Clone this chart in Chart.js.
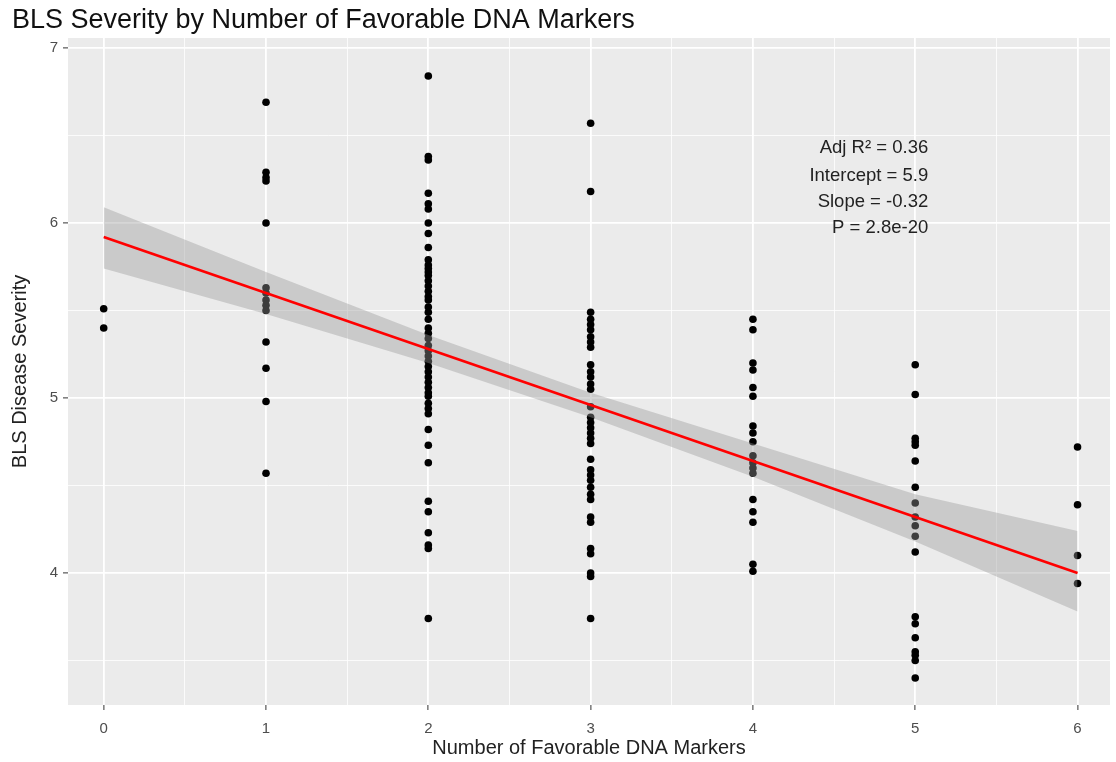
<!DOCTYPE html>
<html>
<head>
<meta charset="utf-8">
<title>BLS Severity by Number of Favorable DNA Markers</title>
<script src="https://cdn.jsdelivr.net/npm/chart.js@4.4.1/dist/chart.umd.min.js"></script>
<style>
  html, body { margin: 0; padding: 0; background: #fff; }
  #wrap { width: 1116px; height: 762px; position: relative; }
</style>
</head>
<body>
<div id="wrap"><canvas id="chart"></canvas></div>
<script>
// severity readings, one array per number of favorable markers
const severity0 = [5.51, 5.40];
const severity1 = [6.69, 6.29, 6.26, 6.24, 6.00, 5.63, 5.60, 5.56, 5.53, 5.50, 5.32, 5.17, 4.98, 4.57];
const severity2 = [6.84, 6.38, 6.36, 6.17, 6.11, 6.08, 6.00, 5.94, 5.86, 5.79, 5.76, 5.74, 5.72, 5.70,
  5.67, 5.64, 5.61, 5.58, 5.56, 5.52, 5.49, 5.45, 5.40, 5.37, 5.34, 5.30, 5.27, 5.24, 5.21, 5.18,
  5.15, 5.12, 5.09, 5.06, 5.03, 5.01, 4.97, 4.94, 4.91, 4.82, 4.73, 4.63, 4.41, 4.35, 4.23, 4.16,
  4.14, 3.74];
const severity3 = [6.57, 6.18, 5.49, 5.45, 5.42, 5.39, 5.35, 5.32, 5.29, 5.19, 5.15, 5.12, 5.08, 5.05,
  4.95, 4.89, 4.86, 4.83, 4.80, 4.77, 4.74, 4.65, 4.59, 4.56, 4.53, 4.49, 4.45, 4.42, 4.32, 4.29,
  4.14, 4.11, 4.00, 3.98, 3.74];
const severity4 = [5.45, 5.39, 5.20, 5.16, 5.06, 5.01, 4.84, 4.80, 4.75, 4.67, 4.63, 4.60, 4.57, 4.42,
  4.35, 4.29, 4.05, 4.01];
const severity5 = [5.19, 5.02, 4.77, 4.75, 4.73, 4.64, 4.49, 4.40, 4.32, 4.27, 4.21, 4.12, 3.75, 3.71,
  3.63, 3.55, 3.53, 3.50, 3.40];
const severity6 = [4.72, 4.39, 4.10, 3.94];
const markers = [0, 1, 2, 3, 4, 5, 6];
const severities = [severity0, severity1, severity2, severity3, severity4, severity5, severity6];

// fitted line and confidence band read at each marker count
const fitX = [0, 6];
const fitY = [5.92, 4.00];
const bandUpper = [6.09, 5.72, 5.36, 5.03, 4.74, 4.45, 4.24];
const bandLower = [5.74, 5.48, 5.20, 4.89, 4.55, 4.18, 3.78];

const xGrid = [0, 0.5, 1, 1.5, 2, 2.5, 3, 3.5, 4, 4.5, 5, 5.5, 6];
const yGrid = [3.5, 4, 4.5, 5, 5.5, 6, 6.5, 7];

const statLines = ["Adj R\u00b2 = 0.36", "Intercept = 5.9", "Slope = -0.32", "P = 2.8e-20"];
const statX = 5.08;
const statY = [6.43, 6.27, 6.12, 5.97];

const points = [];
markers.forEach((m, i) => severities[i].forEach(v => points.push({ x: m, y: v })));

const isMajor = v => Math.abs(v - Math.round(v)) < 1e-6;
const FONT = "'Liberation Sans', Arial, sans-serif";

const panelPlugin = {
  id: "panel",
  beforeDraw(chart) {
    const { ctx, chartArea: a } = chart;
    ctx.save();
    ctx.fillStyle = "#fff";
    ctx.fillRect(0, 0, chart.width, chart.height);
    ctx.fillStyle = "#EBEBEB";
    ctx.fillRect(a.left, a.top, a.right - a.left, a.bottom - a.top);
    ctx.restore();
  },
  afterDraw(chart) {
    const { ctx } = chart;
    const xs = chart.scales.x, ys = chart.scales.y;
    ctx.save();
    ctx.fillStyle = "#111";
    ctx.font = "27px " + FONT;
    ctx.textBaseline = "middle";
    ctx.textAlign = "left";
    ctx.fillText("BLS Severity by Number of Favorable DNA Markers", 12, 21);
    ctx.fillStyle = "#222";
    ctx.font = "18.5px " + FONT;
    ctx.textAlign = "right";
    statLines.forEach((t, i) => {
      ctx.fillText(t, xs.getPixelForValue(statX), ys.getPixelForValue(statY[i]));
    });
    ctx.restore();
  }
};

const gridStyle = {
  color: "#fff",
  lineWidth: c => (c.tick && isMajor(c.tick.value) ? 1.8 : 0.8),
  tickColor: c => (c.tick && isMajor(c.tick.value) ? "#333" : "rgba(0,0,0,0)"),
  tickLength: 5,
  tickWidth: 1
};

new Chart(document.getElementById("chart"), {
  data: {
    datasets: [
      {
        type: "line",
        label: "fit",
        data: fitX.map((x, i) => ({ x, y: fitY[i] })),
        borderColor: "#FF0000",
        borderWidth: 2.6,
        pointRadius: 0,
        order: 0
      },
      {
        type: "line",
        label: "upper",
        data: markers.map((x, i) => ({ x, y: bandUpper[i] })),
        borderWidth: 0,
        borderColor: "rgba(0,0,0,0)",
        backgroundColor: "rgba(153,153,153,0.4)",
        pointRadius: 0,
        fill: "+1",
        order: 1
      },
      {
        type: "line",
        label: "lower",
        data: markers.map((x, i) => ({ x, y: bandLower[i] })),
        borderWidth: 0,
        borderColor: "rgba(0,0,0,0)",
        pointRadius: 0,
        fill: false,
        order: 1
      },
      {
        type: "scatter",
        label: "severity",
        data: points,
        backgroundColor: "#000",
        borderWidth: 0,
        pointRadius: 3.8,
        order: 2
      }
    ]
  },
  options: {
    responsive: true,
    maintainAspectRatio: false,
    animation: false,
    layout: { padding: { top: 38, right: 6, left: 0, bottom: 0 } },
    plugins: {
      legend: { display: false },
      tooltip: { enabled: false }
    },
    scales: {
      x: {
        type: "linear",
        min: -0.22,
        max: 6.2,
        afterBuildTicks: s => { s.ticks = xGrid.map(v => ({ value: v })); },
        afterFit: s => { s.height = 57; },
        grid: gridStyle,
        border: { display: false },
        ticks: {
          autoSkip: false,
          maxRotation: 0,
          padding: 10,
          color: "#4D4D4D",
          font: { size: 15, family: FONT },
          callback: v => (isMajor(v) ? String(Math.round(v)) : "")
        },
        title: {
          display: true,
          text: "Number of Favorable DNA Markers",
          color: "#222",
          padding: { top: 0, bottom: 2 },
          font: { size: 20, family: FONT }
        }
      },
      y: {
        type: "linear",
        min: 3.246,
        max: 7.057,
        afterBuildTicks: s => { s.ticks = yGrid.map(v => ({ value: v })); },
        afterFit: s => { s.width = 68; },
        grid: gridStyle,
        border: { display: false },
        ticks: {
          autoSkip: false,
          padding: 5,
          color: "#4D4D4D",
          font: { size: 15, family: FONT },
          callback: v => (isMajor(v) ? String(Math.round(v)) : "")
        },
        title: {
          display: true,
          text: "BLS Disease Severity",
          color: "#222",
          padding: { top: 8, bottom: 0 },
          font: { size: 20, family: FONT }
        }
      }
    }
  },
  plugins: [panelPlugin]
});
</script>
</body>
</html>
